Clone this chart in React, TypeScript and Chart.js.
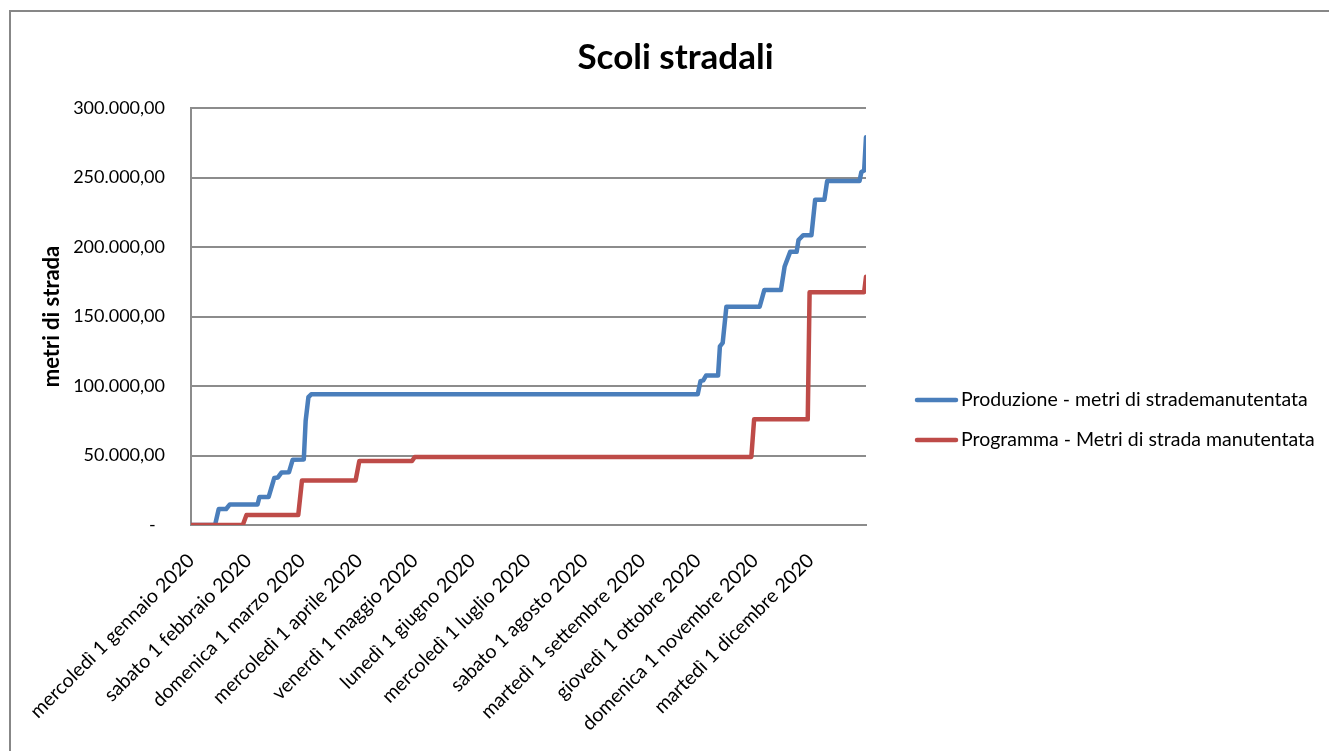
import { useEffect, useRef } from 'react';
import { Chart, registerables } from 'chart.js';

Chart.register(...registerables);

// ---- Data ----
// x values are day numbers of 2020 (0 = 1 January 2020)
const monthStartDays = [0, 31, 60, 91, 121, 152, 182, 213, 244, 274, 305, 335];
const monthLabels = [
  'mercoledì 1 gennaio 2020',
  'sabato 1 febbraio 2020',
  'domenica 1 marzo 2020',
  'mercoledì 1 aprile 2020',
  'venerdì 1 maggio 2020',
  'lunedì 1 giugno 2020',
  'mercoledì 1 luglio 2020',
  'sabato 1 agosto 2020',
  'martedì 1 settembre 2020',
  'giovedì 1 ottobre 2020',
  'domenica 1 novembre 2020',
  'martedì 1 dicembre 2020',
];

const prodDays = [
  0, 13, 15, 19, 21, 36, 37, 42, 45, 47,
  49, 53, 55, 61, 62, 63.5, 65, 274, 275.5, 277,
  278.5, 285, 286, 287.5, 289.5, 307.5, 310, 319, 321, 324,
  327.5, 328.5, 331, 335.5, 337.5, 342.5, 344, 361.5, 362.5, 364,
  365,
];
const prodValues = [
  0, 0, 11500, 11500, 14800, 14800, 20200, 20200, 33800, 34200,
  37800, 38000, 47000, 47200, 75000, 92000, 94000, 94000, 103500, 104000,
  107500, 107500, 128500, 131000, 157000, 157000, 169000, 169000, 186000, 196500,
  196500, 205000, 208500, 208500, 234000, 234000, 247500, 247500, 254000, 255000,
  279000,
];

const progDays = [0, 28, 30, 58, 60, 89, 91, 119.5, 121, 303, 304.5, 333.5, 334.5, 364, 365];
const progValues = [0, 0, 7200, 7200, 32000, 32000, 46000, 46000, 49000, 49000, 76000, 76000, 167500, 167500, 178500];

const seriesNames = [
  'Produzione - metri di strademanutentata',
  'Programma - Metri di strada manutentata',
];
const seriesColors = ['#4A7EBB', '#BE4B48'];

const yMin = 0;
const yMax = 300000;
const yStep = 50000;

const FONT = 'Lato, "Open Sans", sans-serif';

function formatIt(v: number): string {
  if (v === 0) return '-  ';
  const s = Math.round(v).toString();
  return s.replace(/\B(?=(\d{3})+(?!\d))/g, '.') + ',00';
}

// Excel-like legend at the right, vertically centred on the whole chart
const excelLegend = {
  id: 'excelLegend',
  afterDraw(chart: any) {
    const ctx = chart.ctx as CanvasRenderingContext2D;
    const x0 = chart.chartArea.right + 49;
    const cy = chart.height / 2;
    const n = seriesNames.length;
    seriesNames.forEach((name, i) => {
      const y = cy + (i - (n - 1) / 2) * 40;
      ctx.save();
      ctx.strokeStyle = seriesColors[i];
      ctx.lineWidth = 4.5;
      ctx.lineCap = 'round';
      ctx.beginPath();
      ctx.moveTo(x0 + 2, y);
      ctx.lineTo(x0 + 41, y);
      ctx.stroke();
      ctx.fillStyle = '#000';
      ctx.font = `19.5px ${FONT}`;
      ctx.textAlign = 'left';
      ctx.textBaseline = 'middle';
      ctx.fillText(name, x0 + 46, y);
      ctx.restore();
    });
  },
};

export default function App() {
  const ref = useRef<HTMLCanvasElement>(null);

  useEffect(() => {
    const GRID = '#8c8c8c';
    const chart = new Chart(ref.current as HTMLCanvasElement, {
      type: 'line',
      data: {
        datasets: [
          {
            label: seriesNames[0],
            data: prodDays.map((d, i) => ({ x: d, y: prodValues[i] })),
            borderColor: seriesColors[0],
            backgroundColor: seriesColors[0],
            borderWidth: 4.5,
            pointRadius: 0,
            tension: 0,
            borderJoinStyle: 'round',
            borderCapStyle: 'round',
            order: 1,
          },
          {
            label: seriesNames[1],
            data: progDays.map((d, i) => ({ x: d, y: progValues[i] })),
            borderColor: seriesColors[1],
            backgroundColor: seriesColors[1],
            borderWidth: 4.5,
            pointRadius: 0,
            tension: 0,
            borderJoinStyle: 'round',
            borderCapStyle: 'round',
            order: 0,
          },
        ],
      },
      options: {
        responsive: false,
        animation: false,
        devicePixelRatio: 1,
        layout: { padding: 0 },
        plugins: {
          title: {
            display: true,
            text: 'Scoli stradali',
            color: '#000',
            font: { family: FONT, size: 35, weight: 'bold' },
            padding: { top: 25, bottom: 29 },
          },
          legend: { display: false },
          tooltip: { enabled: false },
        },
        scales: {
          x: {
            type: 'linear',
            min: 0,
            max: 365,
            afterBuildTicks: (s: any) => {
              s.ticks = monthStartDays.map((v) => ({ value: v }));
            },
            afterFit: (s: any) => {
              s.height = 303;
              s.paddingLeft = 0;
              s.paddingRight = 0;
            },
            grid: { display: false, drawTicks: false },
            border: { display: true, color: GRID, width: 2 },
            ticks: {
              autoSkip: false,
              minRotation: 45,
              maxRotation: 45,
              padding: 24,
              color: '#000',
              font: { family: FONT, size: 19.5 },
              callback: (_v: any, i: number) => monthLabels[i],
            },
          },
          y: {
            type: 'linear',
            min: yMin,
            max: yMax,
            afterFit: (s: any) => {
              s.width = 180;
            },
            grid: { color: GRID, lineWidth: 2, drawTicks: false },
            border: { color: GRID, width: 2 },
            ticks: {
              stepSize: yStep,
              padding: 26,
              color: '#000',
              font: { family: FONT, size: 18 },
              callback: (v: any) => formatIt(Number(v)),
            },
            title: {
              display: true,
              text: 'metri di strada',
              color: '#000',
              font: { family: FONT, size: 22, weight: 'bold' },
              padding: { top: 28, bottom: 0 },
            },
          },
          legendSpace: {
            type: 'linear',
            position: 'right',
            display: true,
            grid: { display: false, drawTicks: false },
            border: { display: false },
            ticks: { display: false },
            afterFit: (s: any) => {
              s.width = 474;
            },
          },
        },
      } as any,
      plugins: [excelLegend],
    });
    return () => chart.destroy();
  }, []);

  return (
    <div
      style={{
        position: 'fixed',
        left: 0,
        top: 0,
        width: 1329,
        height: 751,
        overflow: 'hidden',
        background: '#fff',
      }}
    >
      <div
        style={{
          position: 'absolute',
          left: 9,
          top: 10,
          width: 1340,
          height: 830,
          borderTop: '2px solid #878787',
          borderLeft: '2px solid #878787',
          boxSizing: 'border-box',
        }}
      />
      <canvas
        ref={ref}
        width={1329}
        height={816}
        style={{ position: 'absolute', left: 11, top: 12, display: 'block' }}
      />
    </div>
  );
}
